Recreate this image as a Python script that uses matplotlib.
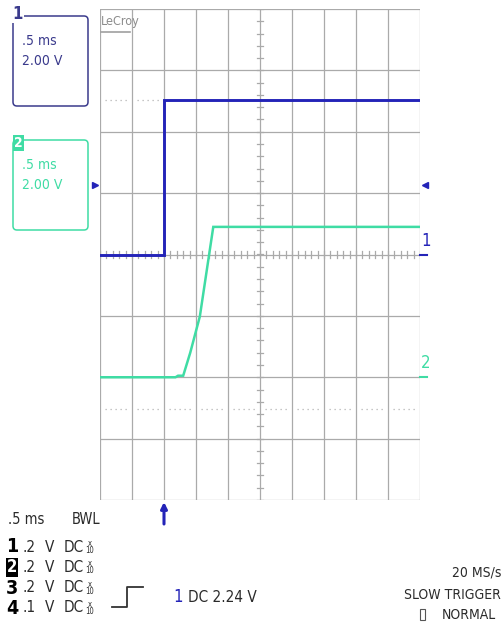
import matplotlib
matplotlib.use("Agg")
import matplotlib.pyplot as plt
from matplotlib import font_manager
from matplotlib.patches import FancyBboxPatch
import numpy as np

W, H = 504, 627

# time in ms (0.5 ms/div, trigger at 0), amplitudes in volts
time_per_div = 0.5
t_start = -1.0
ch1_t = [-1.0, 0.0, 0.0, 4.0]
ch1_v = [0.0, 0.0, 5.05, 5.05]
ch2_t = [-1.0, 0.18, 0.22, 0.30, 0.41, 0.56, 0.67, 0.77, 4.0]
ch2_v = [0.0, 0.0, 0.05, 0.05, 0.80, 1.98, 3.51, 4.90, 4.90]
ch1_scale, ch1_offset = 2.0, 0.0   # V/div, div
ch2_scale, ch2_offset = 2.0, -2.0
ref_levels = [2.52, -2.51]          # dotted cursor lines (div)
trig_level = 1.14                   # side markers (div)

ch_labels = ["1", "2", "3", "4"]
ch_volts = [".2", ".2", ".2", ".1"]
timebase = ".5 ms"
box_texts = [(".5 ms", "2.00 V"), (".5 ms", "2.00 V")]
trig_text = "DC 2.24 V"
right_texts = ["20 MS/s", "SLOW TRIGGER", "NORMAL"]

BLUE = "#2424b8"
NAVY = "#3a3a8c"
GREEN = "#3fdca4"
GRID = "#aaaaaa"
TXT = "#2a2a2a"

names = {f.name for f in font_manager.fontManager.ttflist}
condensed = any(f.name == "DejaVu Sans" and f.stretch == "condensed"
                for f in font_manager.fontManager.ttflist)
if "Liberation Sans Narrow" in names:
    FONT = dict(family="Liberation Sans Narrow")
elif condensed:
    FONT = dict(family="DejaVu Sans", stretch="condensed")
else:
    FONT = dict(family="DejaVu Sans")

fig = plt.figure(figsize=(W / 100, H / 100), dpi=100)

# scope screen
ax = fig.add_axes([100 / W, 1 - 500 / H, 320 / W, 491 / H])
ax.set_xlim(t_start, t_start + 10 * time_per_div)
ax.set_ylim(-4, 4)
ax.axis("off")

for i in range(11):
    ax.axvline(t_start + i * time_per_div, color=GRID, lw=0.9, zorder=1)
for j in range(-4, 5):
    ax.axhline(j, color=GRID, lw=0.9, zorder=1)

# minor ticks on center cross
tc = t_start + 5 * time_per_div
for x in np.arange(t_start, t_start + 10 * time_per_div + 1e-6, time_per_div / 5):
    ax.plot([x, x], [-0.06, 0.06], color=GRID, lw=0.9, zorder=1)
for y in np.arange(-4, 4.001, 0.2):
    ax.plot([tc - 0.047, tc + 0.047], [y, y], color=GRID, lw=0.9, zorder=1)

# dotted reference lines
for lvl in ref_levels:
    for i in range(10):
        x0 = t_start + (i + 0.15) * time_per_div
        x1 = t_start + (i + 0.85) * time_per_div
        ax.plot([x0, x1], [lvl, lvl], color="#b4b4b4", lw=0.9,
                ls=(0, (1, 3)), zorder=1)

# traces
ax.plot(ch2_t, np.array(ch2_v) / ch2_scale + ch2_offset, color=GREEN,
        lw=1.8, zorder=3, solid_joinstyle="miter")
ax.plot(ch1_t, np.array(ch1_v) / ch1_scale + ch1_offset, color=BLUE,
        lw=2.1, zorder=4, solid_joinstyle="miter")

# side markers
yt = ax.get_yaxis_transform()
ax.plot([-5 / 320], [trig_level], marker=">", ms=5, color=BLUE,
        transform=yt, clip_on=False)
ax.plot([1 + 5 / 320], [trig_level], marker="<", ms=5, color=BLUE,
        transform=yt, clip_on=False)
for off, lab, col in [(ch1_offset, "1", BLUE), (ch2_offset, "2", GREEN)]:
    ax.plot([1.0, 1.0 + 7 / 320], [off, off], color=col, lw=1.5,
            transform=yt, clip_on=False)
    ax.text(1.0 + 1 / 320, off + 0.08, lab, color=col, fontsize=12,
            ha="left", va="bottom", transform=yt, **FONT)

# trigger arrow
ax.annotate("", xy=(0.0, -2 / 491), xycoords=("data", "axes fraction"),
            xytext=(0.0, -24 / 491), textcoords=("data", "axes fraction"),
            arrowprops=dict(arrowstyle="-|>", color=BLUE, lw=2.2,
                            mutation_scale=9, shrinkA=0, shrinkB=0),
            annotation_clip=False)

# overlay in pixel coordinates for screen annotations
ov = fig.add_axes([0, 0, 1, 1], facecolor="none", zorder=5)
ov.set_xlim(0, W)
ov.set_ylim(H, 0)
ov.axis("off")

# LeCroy logo
ov.text(101, 22, "LeCroy", color="#8c8c8c", fontsize=9, ha="left",
        va="center", **FONT)
ov.plot([101, 130], [32, 32], color="#a0a0a0", lw=1.2)

# channel boxes
for k, (y0, col, tcol) in enumerate([(16, NAVY, NAVY), (140, GREEN, GREEN)]):
    ov.add_patch(FancyBboxPatch((13, y0), 75, 90,
                                boxstyle="round,pad=0,rounding_size=4",
                                fc="none", ec=col, lw=1.1))
    ov.text(22, y0 + 25, box_texts[k][0], color=tcol, fontsize=10,
            ha="left", va="center", **FONT)
    ov.text(22, y0 + 45, box_texts[k][1], color=tcol, fontsize=10,
            ha="left", va="center", **FONT)
ov.text(18, 14, "1", color=NAVY, fontsize=12, fontweight="bold",
        ha="center", va="center", **FONT,
        bbox=dict(fc="white", ec="none", pad=0.3))
ov.text(18.5, 143, "2", color="white", fontsize=10, fontweight="bold",
        ha="center", va="center", **FONT,
        bbox=dict(fc=GREEN, ec="none", pad=0.6))

# setup readout
ov.text(8, 520, timebase, color=TXT, fontsize=10.5, ha="left",
        va="center", **FONT)
ov.text(72, 520, "BWL", color=TXT, fontsize=10.5, ha="left",
        va="center", **FONT)
row_y = [547, 567, 588, 608]
for k, y in enumerate(row_y):
    if k == 1:
        ov.text(12, y, ch_labels[k], color="white", fontsize=12,
                fontweight="bold", ha="center", va="center", **FONT,
                bbox=dict(fc="black", ec="none", pad=0.4))
    else:
        ov.text(12, y, ch_labels[k], color="black", fontsize=14,
                fontweight="bold", ha="center", va="center", **FONT)
    ov.text(22, y, ch_volts[k], color=TXT, fontsize=11, ha="left",
            va="center", **FONT)
    ov.text(45, y, "V", color=TXT, fontsize=11, ha="left", va="center",
            **FONT)
    ov.text(64, y, "DC", color=TXT, fontsize=11, ha="left", va="center",
            **FONT)
    ov.text(90, y, "x\n10", color=TXT, fontsize=5.5, ha="center",
            va="center", linespacing=0.85, **FONT)

# trigger symbol and level
ov.plot([112, 127, 127, 143], [607, 607, 587, 587], color="#333333", lw=1.3)
ov.text(178, 597, "1", color=BLUE, fontsize=12, ha="center", va="center",
        **FONT)
ov.text(188, 597, trig_text, color=TXT, fontsize=11, ha="left",
        va="center", **FONT)

# acquisition info
ov.text(501, 573, right_texts[0], color=TXT, fontsize=10, ha="right",
        va="center", **FONT)
ov.text(501, 595, right_texts[1], color=TXT, fontsize=10, ha="right",
        va="center", **FONT)
ov.text(442, 615, right_texts[2], color=TXT, fontsize=10, ha="left",
        va="center", **FONT)
ov.add_patch(FancyBboxPatch((420, 609), 5, 11, boxstyle="square,pad=0",
                            fc="none", ec="#555555", lw=0.8))

fig.savefig("out.png", dpi=100)
